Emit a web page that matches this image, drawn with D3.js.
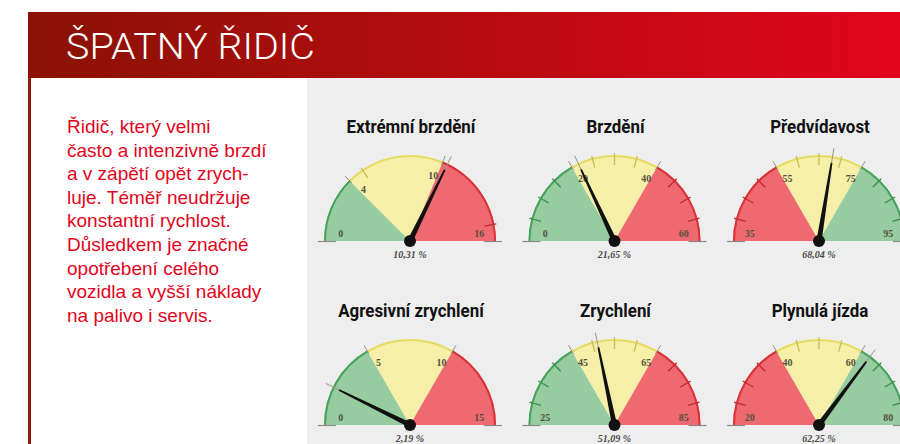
<!DOCTYPE html>
<html>
<head>
<meta charset="utf-8">
<script src="https://cdn.jsdelivr.net/npm/d3@7"></script>
<style>
  html, body { margin: 0; padding: 0; background: #fff; }
  svg { display: block; }
</style>
</head>
<body>
<div id="chart"></div>
<script>
'use strict'

// data
var heading = 'ŠPATNÝ ŘIDIČ'
var introLines = [
  'Řidič, který velmi',
  'často a intenzivně brzdí',
  'a v zápětí opět zrych-',
  'luje. Téměř neudržuje',
  'konstantní rychlost.',
  'Důsledkem je značné',
  'opotřebení celého',
  'vozidla a vyšší náklady',
  'na palivo i servis.'
]
var gaugeTitles = ['Extrémní brzdění', 'Brzdění', 'Předvídavost', 'Agresivní zrychlení', 'Zrychlení', 'Plynulá jízda']
var scaleMin = [0, 0, 35, 0, 25, 20]
var scaleMax = [16, 60, 95, 15, 85, 80]
var zoneBounds = [[4, 10], [20, 40], [55, 75], [5, 10], [45, 65], [40, 60]]
var zoneOrder = [['g', 'y', 'r'], ['g', 'y', 'r'], ['r', 'y', 'g'], ['g', 'y', 'r'], ['g', 'y', 'r'], ['r', 'y', 'g']]
var needleValues = [10.31, 21.65, 68.04, 2.19, 51.09, 62.25]
var valueLabels = ['10,31 %', '21,65 %', '68,04 %', '2,19 %', '51,09 %', '62,25 %']
var tickStep = [5, 5, 5, 5, 5, 5]

var W = 900, H = 444
var fills = { g: '#96cca0', y: '#f5efa8', r: '#ef6a70' }
var rims = { g: '#45a25b', y: '#e6da63', r: '#d9323b' }

var svg = d3.select('#chart').append('svg').attr('width', W).attr('height', H)

var defs = svg.append('defs')
var grad = defs.append('linearGradient').attr('id', 'hdr').attr('x1', 0).attr('x2', 1).attr('y1', 0).attr('y2', 0)
grad.append('stop').attr('offset', 0).attr('stop-color', '#8a1204')
grad.append('stop').attr('offset', 1).attr('stop-color', '#e1051b')

// panels
svg.append('rect').attr('x', 307).attr('y', 78).attr('width', W - 307).attr('height', H - 78).attr('fill', '#eeeeee')
svg.append('rect').attr('x', 28).attr('y', 78).attr('width', 3).attr('height', H - 78).attr('fill', '#8d1b10')
svg.append('rect').attr('x', 28).attr('y', 12).attr('width', W - 28).attr('height', 66).attr('fill', 'url(#hdr)')

var squeeze = function(sel, k){
  sel.each(function(){
    var len = this.getComputedTextLength()
    d3.select(this).attr('textLength', len * k).attr('lengthAdjust', 'spacingAndGlyphs')
  })
}

svg.append('text').attr('x', 66).attr('y', 59)
  .attr('fill', '#fff').style('font', '300 36px Roboto, "Liberation Sans", sans-serif')
  .attr('textLength', 249).attr('lengthAdjust', 'spacingAndGlyphs')
  .text(heading)

svg.append('g').selectAll('text').data(introLines).enter().append('text')
  .attr('x', 67).attr('y', function(d, i){ return 133 + i * 23.6 })
  .attr('fill', '#e3051d').style('font', '19px "Liberation Sans", Arial, sans-serif')
  .text(function(d){ return d })

// gauges
var colX = d3.scalePoint().domain([0, 1, 2]).range([410, 819])
var rowY = d3.scalePoint().domain([0, 1]).range([241, 425])
var R = 86

var pt = function(cx, cy, a, rad){ return [cx + rad * Math.sin(a), cy - rad * Math.cos(a)] }

gaugeTitles.forEach(function(title, i){
  var cx = colX(i % 3), cy = rowY(Math.floor(i / 3))
    , lo = scaleMin[i], hi = scaleMax[i]
    , ang = d3.scaleLinear().domain([lo, hi]).range([-Math.PI / 2, Math.PI / 2])
    , edges = [lo].concat(zoneBounds[i]).concat([hi])
    , g = svg.append('g')

  g.append('text').attr('x', cx + 1).attr('y', cy - 108).attr('text-anchor', 'middle')
    .attr('fill', '#111').style('font', 'bold 19px Roboto, "Liberation Sans", sans-serif')
    .text(title).call(squeeze, 0.89)

  var zones = zoneOrder[i].map(function(c, k){ return { c: c, a0: ang(edges[k]), a1: ang(edges[k + 1]) } })

  g.selectAll('path.zone').data(zones).enter().append('path')
    .attr('transform', 'translate(' + cx + ',' + cy + ')')
    .attr('fill', function(d){ return fills[d.c] })
    .attr('d', function(d){ return d3.arc().innerRadius(0).outerRadius(R).startAngle(d.a0).endAngle(d.a1)() })

  g.selectAll('path.rim').data(zones).enter().append('path')
    .attr('transform', 'translate(' + cx + ',' + cy + ')')
    .attr('fill', function(d){ return rims[d.c] })
    .attr('d', function(d){ return d3.arc().innerRadius(R - 2).outerRadius(R).startAngle(d.a0).endAngle(d.a1)() })

  // minor ticks
  var ticks = d3.range(lo + tickStep[i], hi, tickStep[i]).filter(function(v){ return zoneBounds[i].indexOf(v) < 0 })
  g.selectAll('line.tick').data(ticks).enter().append('line')
    .each(function(v){
      var a = ang(v), p0 = pt(cx, cy, a, R - 10), p1 = pt(cx, cy, a, R + 2)
        , k = v < zoneBounds[i][0] ? 0 : v < zoneBounds[i][1] ? 1 : 2
      d3.select(this).attr('x1', p0[0]).attr('y1', p0[1]).attr('x2', p1[0]).attr('y2', p1[1])
        .attr('stroke', d3.color(rims[zoneOrder[i][k]]).darker(0.4)).attr('stroke-width', 1.3)
    })

  // zone boundary marks
  g.selectAll('line.bound').data(zoneBounds[i]).enter().append('line')
    .each(function(v){
      var a = ang(v), p0 = pt(cx, cy, a, R - 4), p1 = pt(cx, cy, a, R + 6)
      d3.select(this).attr('x1', p0[0]).attr('y1', p0[1]).attr('x2', p1[0]).attr('y2', p1[1])
        .attr('stroke', '#9a8f80').attr('stroke-width', 1)
    })

  // base stubs
  g.append('line').attr('x1', cx - R - 6).attr('x2', cx - R + 12).attr('y1', cy + 0.5).attr('y2', cy + 0.5).attr('stroke', '#8a8a8a').attr('stroke-width', 1.2)
  g.append('line').attr('x1', cx + R - 12).attr('x2', cx + R + 6).attr('y1', cy + 0.5).attr('y2', cy + 0.5).attr('stroke', '#8a8a8a').attr('stroke-width', 1.2)

  // scale labels
  var shift = 6 * Math.PI / 180, nudge = 3 * Math.PI / 180
  var labs = edges.map(function(v, k){
    var a = ang(v)
    if (k === 0) a += shift
    else if (k === 3) a -= shift
    else if (k === 1) a += nudge
    else a -= nudge
    return { t: String(v), a: a }
  })
  g.selectAll('text.lab').data(labs).enter().append('text')
    .attr('x', function(d){ return pt(cx, cy, d.a, R * 0.81)[0] })
    .attr('y', function(d){ return pt(cx, cy, d.a, R * 0.81)[1] })
    .attr('dy', '0.35em').attr('text-anchor', 'middle')
    .attr('fill', '#55503f').style('font', 'bold 10px "Liberation Serif", serif')
    .text(function(d){ return d.t })

  // needle
  var na = ang(needleValues[i])
    , ext0 = pt(cx, cy, na, R - 8), ext1 = pt(cx, cy, na, R + 8)
  g.append('line').attr('x1', ext0[0]).attr('y1', ext0[1]).attr('x2', ext1[0]).attr('y2', ext1[1])
    .attr('stroke', '#9b9282').attr('stroke-width', 1)
  var tip = pt(cx, cy, na, R * 0.92)
    , bl = pt(cx, cy, na - Math.PI / 2, 2.6), br = pt(cx, cy, na + Math.PI / 2, 2.6)
    , tl = pt(tip[0], tip[1], na - Math.PI / 2, 0.9), tr = pt(tip[0], tip[1], na + Math.PI / 2, 0.9)
  g.append('path').attr('d', d3.line()([bl, tl, tr, br]) + 'Z').attr('fill', '#111')
  g.append('circle').attr('cx', cx).attr('cy', cy).attr('r', 6).attr('fill', '#111')

  g.append('text').attr('x', cx).attr('y', cy + 17).attr('text-anchor', 'middle')
    .attr('fill', '#4a4a4a').style('font', 'italic bold 10px "Liberation Serif", serif')
    .text(valueLabels[i])
})
</script>
</body>
</html>
